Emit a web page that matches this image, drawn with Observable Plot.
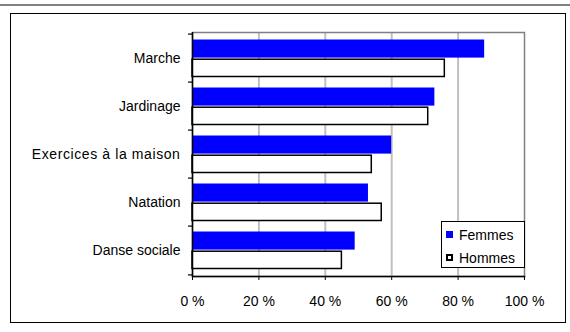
<!DOCTYPE html>
<html><head><meta charset="utf-8">
<script src="https://cdn.jsdelivr.net/npm/d3@7"></script>
<script src="https://cdn.jsdelivr.net/npm/@observablehq/plot@0.6"></script>
<style>
body{margin:0;background:#fff;font-family:"Liberation Sans",Arial,sans-serif;}
#wrap{position:relative;width:570px;height:332px;overflow:hidden;background:#fff;}
#topline{position:absolute;left:0;top:4px;width:570px;height:2px;background:#808080;}
#box{position:absolute;left:10px;top:13px;width:554px;height:308px;border:1px solid #000;}
#chart{position:absolute;left:0;top:0;}
#legend{position:absolute;left:441px;top:221px;width:82px;height:45px;border:1px solid #000;background:#fff;font-size:14px;color:#000;}
.item{position:absolute;left:4px;height:16px;line-height:16px;white-space:nowrap;}
.sw{position:absolute;left:0;top:4px;width:7px;height:7px;box-sizing:border-box;}
.lab{position:absolute;left:13px;top:0;}
</style>
</head><body>
<div id="wrap">
  <div id="topline"></div>
  <div id="box"></div>
  <div id="chart"></div>
  <div id="legend"></div>
</div>
<script>
const categories = ["Marche", "Jardinage", "Exercices à la maison", "Natation", "Danse sociale"];
const seriesNames = ["Femmes", "Hommes"];
const femmes = [88, 73, 60, 53, 49];
const hommes = [76, 71, 54, 57, 45];
const xTicks = [0, 20, 40, 60, 80, 100];

const W = 570, H = 332, mt = 32, mb = 56, ml = 192, mr = 46;
const band = (H - mt - mb) / categories.length;
const font = '"Liberation Sans", Arial, sans-serif';

const chart = Plot.plot({
  width: W, height: H,
  marginTop: mt, marginBottom: mb, marginLeft: ml, marginRight: mr,
  style: {background: "transparent", fontFamily: font, fontSize: "14px", color: "#000", overflow: "visible"},
  x: {domain: [0, 100]},
  y: {domain: categories, padding: 0},
  marks: [
    Plot.gridX(xTicks.slice(1, -1), {stroke: "#c0c0c0", strokeOpacity: 1, strokeWidth: 2}),
    Plot.frame({stroke: "#808080", strokeWidth: 1.5}),
    Plot.barX(categories, {y: d => d, x: (d, i) => femmes[i], fill: "#0000ff", insetTop: 5.5, insetBottom: band / 2}),
    Plot.barX(categories, {y: d => d, x: (d, i) => hommes[i], fill: "#fff", stroke: "#000", strokeWidth: 1.5, insetTop: band / 2 + 0.8, insetBottom: 5.5}),
    Plot.ruleX([0], {stroke: "#000", strokeWidth: 1.5}),
    Plot.frame({anchor: "bottom", stroke: "#000", strokeWidth: 1.5}),
    Plot.ruleY(categories, {y: d => d, dy: -band / 2, x1: 0, x2: 0, insetLeft: -4, stroke: "#000", strokeWidth: 1.2}),
    Plot.ruleY([categories[categories.length - 1]], {y: d => d, dy: band / 2, x1: 0, x2: 0, insetLeft: -4, stroke: "#000", strokeWidth: 1.2}),
    Plot.axisY({tickSize: 0, tickPadding: 12, fontSize: 14}),
    Plot.axisX({ticks: xTicks, tickFormat: d => d + " %", tickSize: 4, tickPadding: 16, fontSize: 14, stroke: "#000"})
  ]
});
document.getElementById("chart").appendChild(chart);
// the reference renders the long label slightly wider
d3.select(chart).selectAll("text").filter(function() { return this.textContent === categories[2]; })
  .style("letter-spacing", "0.6px");

const legendColors = [{fill: "#0000ff", border: "none"}, {fill: "#fff", border: "2px solid #000"}];
const legend = document.getElementById("legend");
seriesNames.forEach((name, i) => {
  const it = document.createElement("div");
  it.className = "item";
  it.style.top = (5 + i * 23) + "px";
  const sw = document.createElement("div");
  sw.className = "sw";
  sw.style.background = legendColors[i].fill;
  sw.style.border = legendColors[i].border;
  const lab = document.createElement("span");
  lab.className = "lab";
  lab.textContent = name;
  it.appendChild(sw); it.appendChild(lab);
  legend.appendChild(it);
});
</script>
</body></html>
